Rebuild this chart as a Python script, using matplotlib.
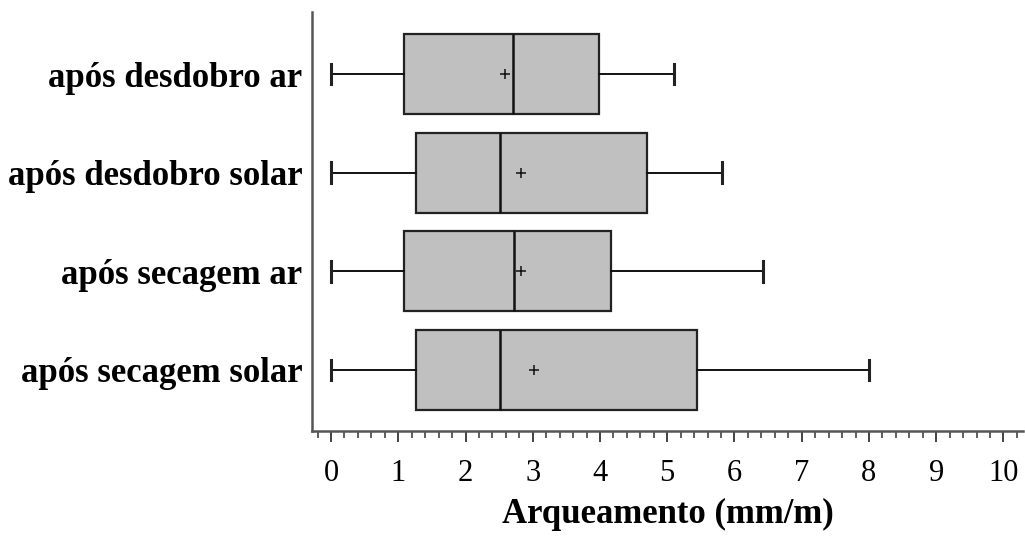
import matplotlib
matplotlib.use("Agg")
import matplotlib.pyplot as plt
from matplotlib.ticker import MultipleLocator

# Warping (mm/m) summary statistics per treatment, listed top to bottom
categories = ["após desdobro ar", "após desdobro solar", "após secagem ar", "após secagem solar"]
whislo = [0.0, 0.0, 0.0, 0.0]
q1 = [1.09, 1.27, 1.09, 1.27]
med = [2.70, 2.52, 2.72, 2.52]
q3 = [3.99, 4.70, 4.17, 5.44]
whishi = [5.10, 5.82, 6.42, 8.00]
mean = [2.59, 2.83, 2.82, 3.02]

plt.rcParams["font.family"] = ["Liberation Serif", "DejaVu Serif"]

fig = plt.figure(figsize=(10.25, 5.37), dpi=100)
ax = fig.add_axes([0.3044, 0.1974, 0.6936, 0.7803])

stats = []
for i, name in enumerate(categories):
    stats.append(dict(label=name, whislo=whislo[i], q1=q1[i], med=med[i],
                      q3=q3[i], whishi=whishi[i], mean=mean[i], fliers=[]))

n = len(categories)
positions = list(range(n, 0, -1))

ax.bxp(stats, positions=positions, vert=False, widths=0.81, patch_artist=True,
       showmeans=True, showfliers=False, capwidths=0.21,
       boxprops=dict(facecolor="#c0c0c0", edgecolor="#222222", linewidth=1.6),
       medianprops=dict(color="#111111", linewidth=1.8),
       whiskerprops=dict(color="#111111", linewidth=1.4),
       capprops=dict(color="#222222", linewidth=2.2),
       meanprops=dict(marker="+", markeredgecolor="#111111", markersize=7,
                      markeredgewidth=1.1))

ax.set_xlim(-0.283, 10.29)
ax.set_ylim(0.38, 4.63)

ax.xaxis.set_major_locator(MultipleLocator(1))
ax.xaxis.set_minor_locator(MultipleLocator(0.2))
ax.set_xticks(range(0, 11))
ax.set_xticklabels([str(v) for v in range(0, 11)])
ax.tick_params(axis="x", which="major", length=8, width=1.3, color="#333333",
               labelsize=22, pad=12.5, direction="out")
ax.tick_params(axis="x", which="minor", length=5, width=1.1, color="#333333",
               direction="out")

ax.set_yticks(positions)
ax.set_yticklabels(categories, fontweight="bold")
ax.tick_params(axis="y", length=0, labelsize=25, pad=7)

for side in ("top", "right"):
    ax.spines[side].set_visible(False)
for side in ("left", "bottom"):
    ax.spines[side].set_color("#555555")
    ax.spines[side].set_linewidth(1.8)

ax.set_xlabel("Arqueamento (mm/m)", fontsize=25, fontweight="bold", labelpad=6.5)

fig.savefig("out.png", dpi=100)
